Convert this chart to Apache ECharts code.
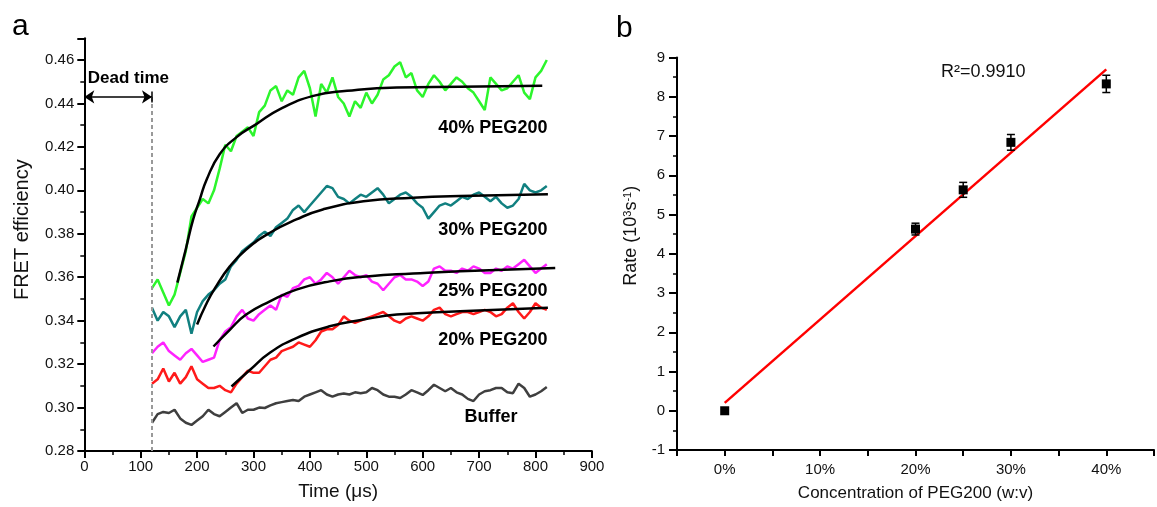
<!DOCTYPE html>
<html>
<head>
<meta charset="utf-8">
<script src="https://cdn.jsdelivr.net/npm/echarts@6/dist/echarts.min.js"></script>
<style>
  html, body { margin: 0; padding: 0; background: #fff; }
  #chart { width: 1157px; height: 507px; }
</style>
</head>
<body>
<div id="chart"></div>
<script>
// ---- panel a: FRET traces, read every 10 µs ----
const timeUs = [
  120, 130, 140, 150, 160, 170, 180, 190, 200, 210,
  220, 230, 240, 250, 260, 270, 280, 290, 300, 310,
  320, 330, 340, 350, 360, 370, 380, 390, 400, 410,
  420, 430, 440, 450, 460, 470, 480, 490, 500, 510,
  520, 530, 540, 550, 560, 570, 580, 590, 600, 610,
  620, 630, 640, 650, 660, 670, 680, 690, 700, 710,
  720, 730, 740, 750, 760, 770, 780, 790, 800, 810,
  820
];
const peg40 = [
  .355, .359, .353, .347, .352, .362, .372, .388, .392, .396,
  .394, .400, .410, .421, .418, .425, .427, .429, .425, .436,
  .439, .446, .448, .441, .446, .444, .452, .455, .447, .434,
  .449, .445, .452, .443, .440, .434, .441, .438, .445, .440,
  .444, .451, .453, .457, .459, .452, .454, .446, .443, .449,
  .453, .450, .446, .449, .452, .450, .447, .445, .441, .437,
  .452, .449, .446, .447, .450, .453, .445, .442, .452, .455,
  .460
];
const peg30 = [
  .346, .340, .344, .342, .337, .342, .345, .334, .344, .349,
  .352, .354, .357, .359, .365, .368, .372, .374, .376, .379,
  .381, .379, .383, .385, .387, .391, .393, .390, .393, .396,
  .399, .402, .401, .397, .396, .394, .396, .398, .397, .399,
  .401, .398, .394, .396, .398, .399, .397, .394, .392, .387,
  .390, .393, .394, .393, .395, .397, .396, .398, .399, .397,
  .395, .397, .394, .392, .393, .396, .403, .400, .399, .400,
  .402
];
const peg25 = [
  .325, .328, .330, .326, .324, .322, .325, .327, .324, .321,
  .322, .323, .331, .335, .337, .342, .345, .341, .340, .343,
  .345, .347, .345, .352, .351, .355, .356, .359, .360, .357,
  .359, .362, .360, .357, .360, .363, .361, .360, .361, .358,
  .357, .354, .357, .360, .361, .359, .359, .358, .356, .358,
  .364, .365, .363, .363, .362, .364, .363, .365, .364, .362,
  .362, .364, .363, .365, .364, .366, .368, .365, .362, .364,
  .366
];
const peg20 = [
  .311, .313, .318, .312, .316, .311, .314, .319, .313, .311,
  .309, .309, .310, .308, .307, .311, .314, .317, .316, .316,
  .319, .322, .323, .326, .327, .328, .330, .329, .328, .331,
  .335, .336, .336, .338, .342, .340, .339, .340, .341, .342,
  .343, .344, .342, .340, .339, .341, .342, .341, .340, .342,
  .345, .346, .343, .342, .343, .344, .344, .343, .344, .345,
  .344, .342, .343, .346, .348, .344, .341, .344, .348, .346,
  .345
];
const buffer = [
  .293, .297, .298, .2975, .299, .295, .293, .292, .294, .296,
  .299, .297, .296, .298, .300, .302, .2975, .299, .299, .300,
  .2998, .301, .302, .3025, .303, .3035, .303, .305, .306, .307,
  .308, .306, .305, .306, .3065, .306, .307, .3066, .307, .309,
  .308, .306, .305, .305, .3044, .306, .308, .307, .3058, .308,
  .3105, .309, .3075, .309, .307, .306, .304, .303, .306, .3075,
  .308, .309, .309, .307, .3066, .311, .309, .305, .306, .3075,
  .3095
];

// exponential fits as [time, FRET]
const fit40 = [[165, .3575], [180, .373], [193, .3866], [205, .396], [217, .405], [240, .4166],
  [270, .4245], [305, .4305], [347, .4374], [406, .4435], [466, .4458], [554, .4474], [666, .4477], [812, .4481]];
const fit30 = [[200, .3382], [215, .347], [232, .3551], [258, .365], [287, .3728], [329, .3805],
  [376, .3866], [423, .3912], [495, .395], [583, .3966], [666, .3974], [822, .3982]];
const fit25 = [[229, .3281], [258, .3358], [287, .3428], [329, .3489], [376, .3543], [435, .3581],
  [506, .3605], [583, .3617], [666, .3628], [835, .3643]];
const fit20 = [[261, .3097], [294, .3174], [329, .3252], [376, .332], [435, .3374], [495, .3405],
  [554, .3428], [666, .3443], [822, .3459]];

const curveLabels = ['40% PEG200', '30% PEG200', '25% PEG200', '20% PEG200', 'Buffer'];
const curveLabelX = [822, 822, 822, 822, 769];
const curveLabelY = [0.4285, 0.3818, 0.3537, 0.3311, 0.2957];
const deadTime = 120;

// ---- panel b: rate vs PEG200 concentration ----
const concPct = [0, 20, 25, 30, 40];
const rate = [0, 4.63, 5.63, 6.84, 8.33];
const rateErr = [0, 0.15, 0.19, 0.2, 0.22];
const fitLineX = [0, 40];
const fitLineY = [0.2, 8.7];

const FONT = 'Liberation Sans, Arial, sans-serif';
const axisBase = {
  type: 'value',
  axisLine: { show: true, onZero: false, lineStyle: { color: '#000', width: 2 } },
  axisTick: { show: true, length: 7, lineStyle: { color: '#000', width: 2 } },
  splitLine: { show: false },
  axisLabel: { fontSize: 15, color: '#111', fontFamily: FONT },
  nameTextStyle: { fontFamily: FONT, color: '#111' }
};

function trace(values, color) {
  return {
    type: 'line', xAxisIndex: 0, yAxisIndex: 0, symbol: 'none', z: 2,
    data: timeUs.map((t, i) => [t, values[i]]),
    lineStyle: { color: color, width: 2.5 }
  };
}
function fitCurve(points) {
  return {
    type: 'line', xAxisIndex: 0, yAxisIndex: 0, symbol: 'none', z: 3,
    smooth: 0.5, data: points,
    lineStyle: { color: '#000', width: 2.5 }
  };
}
// invisible anchor points that only carry a text label
function textMarks(points, texts, position, style) {
  return {
    type: 'scatter', xAxisIndex: 0, yAxisIndex: 0, symbolSize: 1, silent: true, z: 6,
    itemStyle: { color: 'rgba(0,0,0,0)', opacity: 1 },
    data: points,
    label: Object.assign({
      show: true, position: position, distance: 0,
      formatter: p => texts[p.dataIndex],
      fontWeight: 'bold', fontFamily: FONT, color: '#000', opacity: 1
    }, style)
  };
}

const chart = echarts.init(document.getElementById('chart'));
chart.setOption({
  animation: false,
  backgroundColor: '#fff',
  title: [
    { text: 'a', left: 12, top: 12, padding: 0, textStyle: { fontSize: 30, fontWeight: 'normal', fontFamily: FONT, color: '#000' } },
    { text: 'b', left: 616, top: 14, padding: 0, textStyle: { fontSize: 30, fontWeight: 'normal', fontFamily: FONT, color: '#000' } },
    { text: 'R²=0.9910', left: 941, top: 63, padding: 0, textStyle: { fontSize: 18, fontWeight: 'normal', fontFamily: FONT, color: '#111' } }
  ],
  grid: [
    { left: 84.3, top: 38.3, width: 507.6, height: 412.7 },
    { left: 677, top: 57.6, width: 488, height: 396 }
  ],
  xAxis: [
    Object.assign({}, axisBase, {
      gridIndex: 0, min: 0, max: 900, interval: 100,
      minorTick: { show: true, splitNumber: 2, length: 4, lineStyle: { color: '#000', width: 1.5 } },
      axisLabel: Object.assign({}, axisBase.axisLabel, { margin: 8 }),
      name: 'Time (μs)', nameLocation: 'middle', nameGap: 31,
      nameTextStyle: { fontFamily: FONT, color: '#111', fontSize: 19 }
    }),
    Object.assign({}, axisBase, {
      gridIndex: 1, min: -5, max: 45, interval: 5,
      axisTick: { show: true, length: 6, lineStyle: { color: '#000', width: 2 } },
      axisLabel: Object.assign({}, axisBase.axisLabel, {
        margin: 12,
        formatter: v => (v >= 0 && v <= 40 && v % 10 === 0) ? v + '%' : ''
      }),
      name: 'Concentration of PEG200 (w:v)', nameLocation: 'middle', nameGap: 35,
      nameTextStyle: { fontFamily: FONT, color: '#111', fontSize: 17 }
    })
  ],
  yAxis: [
    Object.assign({}, axisBase, {
      gridIndex: 0, min: 0.28, max: 0.47, interval: 0.02,
      minorTick: { show: true, splitNumber: 2, length: 4, lineStyle: { color: '#000', width: 1.5 } },
      axisLabel: Object.assign({}, axisBase.axisLabel, { margin: 10, showMaxLabel: false, formatter: v => v.toFixed(2) }),
      name: 'FRET efficiency', nameLocation: 'middle', nameGap: 52,
      nameTextStyle: { fontFamily: FONT, color: '#111', fontSize: 20, padding: [0, 0, 0, 30] }
    }),
    Object.assign({}, axisBase, {
      gridIndex: 1, min: -1, max: 9, interval: 1,
      axisTick: { show: true, length: 8, lineStyle: { color: '#000', width: 2 } },
      minorTick: { show: true, splitNumber: 2, length: 4, lineStyle: { color: '#000', width: 1.5 } },
      axisLabel: Object.assign({}, axisBase.axisLabel, { margin: 12 }),
      name: 'Rate (10{sup|3}s{sup|-1})', nameLocation: 'middle', nameGap: 37,
      nameTextStyle: {
        fontFamily: FONT, color: '#111', fontSize: 18, padding: [0, 0, 0, 36],
        rich: { sup: { fontSize: 11, fontFamily: FONT, color: '#111', verticalAlign: 'top', lineHeight: 11 } }
      }
    })
  ],
  series: [
    trace(buffer, '#3f3f3f'),
    trace(peg20, '#ff1a1a'),
    trace(peg25, '#ff22ff'),
    trace(peg30, '#118080'),
    trace(peg40, '#2cf52c'),
    fitCurve(fit40),
    fitCurve(fit30),
    fitCurve(fit25),
    fitCurve(fit20),
    textMarks(curveLabelX.map((x, i) => [x, curveLabelY[i]]), curveLabels, 'left', { fontSize: 18 }),
    Object.assign(textMarks([[0, 0.4515]], ['Dead time'], 'right', { fontSize: 17, distance: 3 }), {
      markLine: {
        silent: true, animation: false, label: { show: false },
        symbol: ['arrow', 'arrow'], symbolSize: 10,
        data: [
          [
            { coord: [0, 0.443], lineStyle: { color: '#000', width: 1.5, type: 'solid' } },
            { coord: [deadTime, 0.443] }
          ],
          [
            { coord: [deadTime, 0.28], symbol: 'none', lineStyle: { color: '#999', width: 2, type: [4, 3] } },
            { coord: [deadTime, 0.443], symbol: 'none' }
          ],
          [
            { coord: [deadTime, 0.4405], symbol: 'none', lineStyle: { color: '#000', width: 1.5, type: 'solid' } },
            { coord: [deadTime, 0.4455], symbol: 'none' }
          ]
        ]
      }
    }),
    {
      type: 'line', xAxisIndex: 1, yAxisIndex: 1, symbol: 'none', z: 3,
      data: fitLineX.map((x, i) => [x, fitLineY[i]]),
      lineStyle: { color: '#ff0000', width: 2.5 }
    },
    {
      type: 'custom', xAxisIndex: 1, yAxisIndex: 1, z: 4,
      data: concPct.map((c, i) => [c, rate[i] - rateErr[i], rate[i] + rateErr[i]]),
      renderItem: function (params, api) {
        const lo = api.coord([api.value(0), api.value(1)]);
        const hi = api.coord([api.value(0), api.value(2)]);
        if (Math.abs(lo[1] - hi[1]) < 1) return null;
        const w = 4;
        const st = { stroke: '#000', lineWidth: 1.5 };
        return {
          type: 'group',
          children: [
            { type: 'line', shape: { x1: lo[0], y1: lo[1], x2: hi[0], y2: hi[1] }, style: st },
            { type: 'line', shape: { x1: lo[0] - w, y1: lo[1], x2: lo[0] + w, y2: lo[1] }, style: st },
            { type: 'line', shape: { x1: hi[0] - w, y1: hi[1], x2: hi[0] + w, y2: hi[1] }, style: st }
          ]
        };
      }
    },
    {
      type: 'scatter', xAxisIndex: 1, yAxisIndex: 1, symbol: 'rect', symbolSize: 9, z: 5,
      itemStyle: { color: '#000', opacity: 1 },
      data: concPct.map((c, i) => [c, rate[i]])
    }
  ]
});
</script>
</body>
</html>
